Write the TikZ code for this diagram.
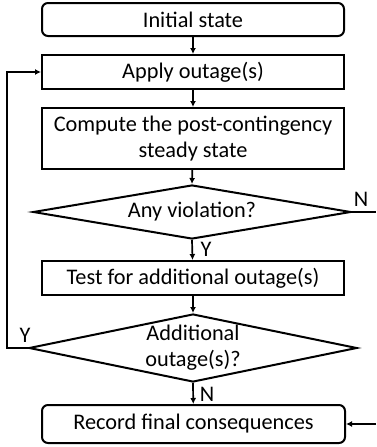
\documentclass[tikz,border=0pt]{standalone}
\usepackage{fontspec}
\setmainfont{Carlito}
\usetikzlibrary{shapes.geometric,arrows.meta}
\begin{document}
\begin{tikzpicture}[x=1pt,y=-1pt,
  every node/.style={font=\fontsize{22.3}{26}\selectfont},
  box/.style={draw,line width=2pt,minimum width=302pt,inner sep=0pt,align=center},
  rbox/.style={box,rounded corners=6pt},
  dec/.style={draw,line width=2pt,diamond,inner sep=0pt,align=center},
  lab/.style={inner sep=0pt},
  arr/.style={line width=1.7pt,-{Latex[length=6pt,width=6pt]}},
  ln/.style={line width=1.7pt}]
\useasboundingbox (0,0) rectangle (376,447);
\node[rbox,minimum height=33pt] (init) at (193,19.5) {Initial state};
\node[box,minimum height=34pt] (apply) at (193,72) {Apply outage(s)};
\node[box,minimum height=61pt] (comp) at (193,138.5) {Compute the post-contingency\\steady state};
\node[dec,minimum width=318pt,minimum height=54pt,shape aspect=5.9] (d1) at (192,212) {Any violation?};
\node[box,minimum height=34pt] (test) at (193,278) {Test for additional outage(s)};
\node[dec,minimum width=328pt,minimum height=68pt,shape aspect=4.8] (d2) at (193,348) {Additional\\outage(s)?};
\node[rbox,minimum height=38pt,minimum width=303pt] (rec) at (193.5,424) {Record final consequences};
\coordinate (nend) at (376,212);
\coordinate (rin) at (376,424);
\coordinate (fb1) at (7,348);
\coordinate (fb2) at (7,72);
\draw[arr] (init) -- (apply);
\draw[arr] (apply) -- (comp);
\draw[arr] (comp) -- (d1.north);
\draw[arr] (d1.south) -- (test);
\draw[arr] (test) -- (d2.north);
\draw[arr] (d2.south) -- (rec);
\draw[ln] (d1.east) -- (nend);
\draw[arr] (rin) -- (rec.east);
\draw[arr] (d2.west) -- (fb1) -- (fb2) -- (apply.west);
\node[lab] (n1) at (361,199) {N};
\node[lab] (y1) at (206,249) {Y};
\node[lab] (y2) at (25,335) {Y};
\node[lab] (n2) at (207,394) {N};
\end{tikzpicture}
\end{document}
